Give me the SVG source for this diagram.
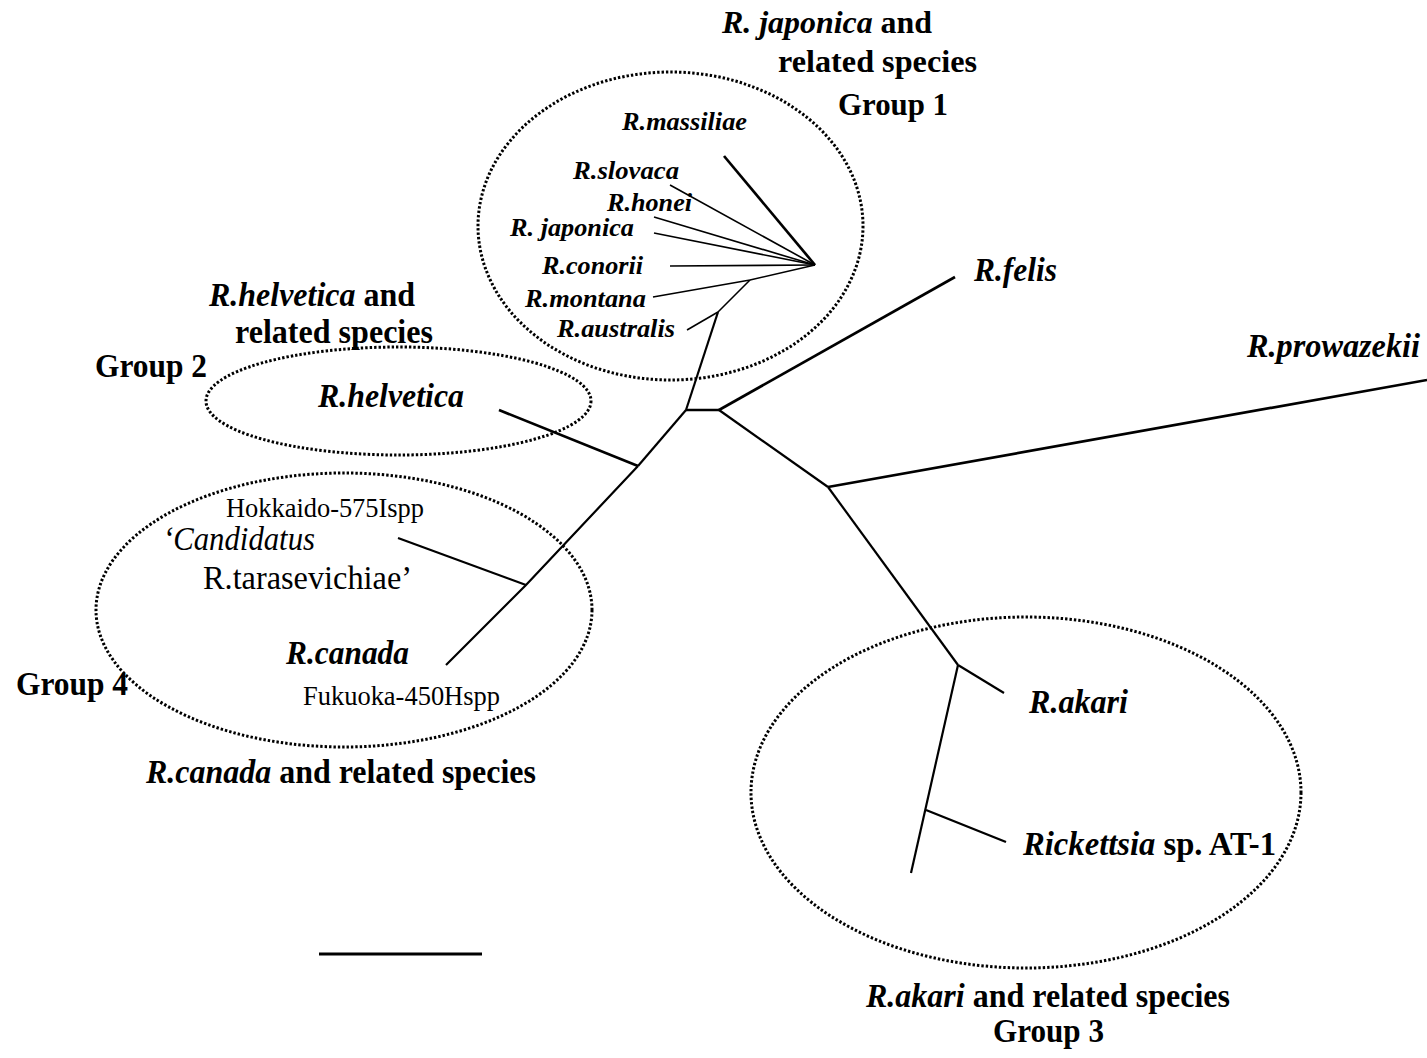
<svg xmlns="http://www.w3.org/2000/svg" width="1427" height="1058" viewBox="0 0 1427 1058">
<style>
text { font-family: "Liberation Serif", "Times New Roman", serif; fill: #000; }
.b { font-weight: bold; }
.i { font-style: italic; }
.big { font-size: 33px; }
.mid { font-size: 32px; }
.sm { font-size: 26px; }
.reg { font-size: 28px; }
.grp { fill: none; stroke: #000; stroke-width: 3; stroke-dasharray: 2.4 2; }
.br { fill: none; stroke: #000; stroke-width: 2.2; stroke-linecap: butt; stroke-linejoin: miter; }
.thin { stroke-width: 1.6; }
.thick { stroke-width: 2.7; }
</style>
<rect width="1427" height="1058" fill="#fff"/>

<g id="group-ellipses">
  <ellipse id="group1-ellipse" class="grp" cx="670.5" cy="226" rx="192.5" ry="154"/>
  <ellipse id="group2-ellipse" class="grp" cx="398.5" cy="401" rx="192.5" ry="54"/>
  <ellipse id="group4-ellipse" class="grp" cx="344" cy="610" rx="248" ry="137"/>
  <ellipse id="group3-ellipse" class="grp" cx="1026" cy="792.5" rx="275" ry="175.5"/>
</g>

<g id="connectors">
  <line class="br thick" x1="724" y1="156" x2="815" y2="265"/>
  <line class="br thin" x1="670" y1="185" x2="815" y2="265"/>
  <line class="br thin" x1="654" y1="217" x2="815" y2="265"/>
  <line class="br thin" x1="654" y1="233" x2="815" y2="265"/>
  <line class="br thin" x1="670" y1="266" x2="815" y2="265"/>
  <polyline class="br thin" points="653,297 750,280 815,265"/>
  <line class="br thin" x1="750" y1="280" x2="718" y2="312"/>
  <line class="br thin" x1="687" y1="330" x2="718" y2="312"/>
  <line class="br" x1="718" y1="312" x2="686" y2="410"/>
  <line class="br thick" x1="686" y1="410" x2="719" y2="410"/>
  <line class="br thick" x1="719" y1="410" x2="955" y2="277"/>
  <line class="br" x1="719" y1="410" x2="828" y2="487"/>
  <line class="br thick" x1="828" y1="487" x2="1427" y2="380"/>
  <line class="br" x1="828" y1="487" x2="958" y2="665"/>
  <line class="br" x1="958" y1="665" x2="1004" y2="693"/>
  <line class="br" x1="958" y1="665" x2="911" y2="873"/>
  <line class="br" x1="926" y1="810" x2="1006" y2="842"/>
  <line class="br" x1="686" y1="410" x2="638" y2="466"/>
  <line class="br thick" x1="499" y1="410" x2="638" y2="466"/>
  <polyline class="br" points="638,466 526,585 446,665"/>
  <line class="br" x1="398" y1="538" x2="526" y2="585"/>
  <line id="scale-bar" class="br" style="stroke-width:3" x1="319" y1="954" x2="482" y2="954"/>
</g>

<g id="group1-label">
  <text class="b mid" x="722" y="33" textLength="210" lengthAdjust="spacingAndGlyphs"><tspan class="i">R. japonica</tspan> and</text>
  <text class="b mid" x="778" y="72" textLength="199" lengthAdjust="spacingAndGlyphs">related species</text>
  <text class="b mid" x="838" y="115" textLength="110" lengthAdjust="spacingAndGlyphs">Group 1</text>
</g>
<g id="node-massiliae"><text class="b i sm" x="622" y="130" textLength="125" lengthAdjust="spacingAndGlyphs">R.massiliae</text></g>
<g id="node-slovaca"><text class="b i sm" x="573" y="179" textLength="106" lengthAdjust="spacingAndGlyphs">R.slovaca</text></g>
<g id="node-honei"><text class="b i sm" x="607" y="211" textLength="85" lengthAdjust="spacingAndGlyphs">R.honei</text></g>
<g id="node-japonica"><text class="b i sm" x="510" y="236" textLength="124" lengthAdjust="spacingAndGlyphs">R. japonica</text></g>
<g id="node-conorii"><text class="b i sm" x="542" y="274" textLength="101" lengthAdjust="spacingAndGlyphs">R.conorii</text></g>
<g id="node-montana"><text class="b i sm" x="525" y="307" textLength="121" lengthAdjust="spacingAndGlyphs">R.montana</text></g>
<g id="node-australis"><text class="b i sm" x="557" y="337" textLength="118" lengthAdjust="spacingAndGlyphs">R.australis</text></g>

<g id="node-felis"><text class="b i big" x="974" y="281" textLength="83" lengthAdjust="spacingAndGlyphs">R.felis</text></g>
<g id="node-prowazekii"><text class="b i big" x="1247" y="357" textLength="173" lengthAdjust="spacingAndGlyphs">R.prowazekii</text></g>

<g id="group2-label">
  <text class="b big" x="209" y="306" textLength="206" lengthAdjust="spacingAndGlyphs"><tspan class="i">R.helvetica</tspan> and</text>
  <text class="b big" x="235" y="343" textLength="198" lengthAdjust="spacingAndGlyphs">related species</text>
  <text class="b big" x="95" y="377" textLength="112" lengthAdjust="spacingAndGlyphs">Group 2</text>
</g>
<g id="node-helvetica"><text class="b i big" x="318" y="407" textLength="146" lengthAdjust="spacingAndGlyphs">R.helvetica</text></g>

<g id="node-tarasevichiae">
  <text class="reg" x="226" y="517" textLength="198" lengthAdjust="spacingAndGlyphs">Hokkaido-575Ispp</text>
  <text class="i big" x="163" y="550" textLength="152" lengthAdjust="spacingAndGlyphs">‘Candidatus</text>
  <text class="big" x="203" y="589" textLength="209" lengthAdjust="spacingAndGlyphs">R.tarasevichiae’</text>
</g>
<g id="node-canada">
  <text class="b i big" x="286" y="664" textLength="123" lengthAdjust="spacingAndGlyphs">R.canada</text>
  <text class="reg" x="303" y="705" textLength="197" lengthAdjust="spacingAndGlyphs">Fukuoka-450Hspp</text>
</g>
<g id="group4-label">
  <text class="b big" x="16" y="695" textLength="112" lengthAdjust="spacingAndGlyphs">Group 4</text>
  <text class="b big" x="146" y="783" textLength="390" lengthAdjust="spacingAndGlyphs"><tspan class="i">R.canada</tspan> and related species</text>
</g>

<g id="node-akari"><text class="b i big" x="1029" y="713" textLength="99" lengthAdjust="spacingAndGlyphs">R.akari</text></g>
<g id="node-at1"><text class="b big" x="1023" y="855" textLength="253" lengthAdjust="spacingAndGlyphs"><tspan class="i">Rickettsia</tspan> sp. AT-1</text></g>
<g id="group3-label">
  <text class="b big" x="866" y="1007" textLength="364" lengthAdjust="spacingAndGlyphs"><tspan class="i">R.akari</tspan> and related species</text>
  <text class="b big" x="993" y="1042" textLength="111" lengthAdjust="spacingAndGlyphs">Group 3</text>
</g>
</svg>
